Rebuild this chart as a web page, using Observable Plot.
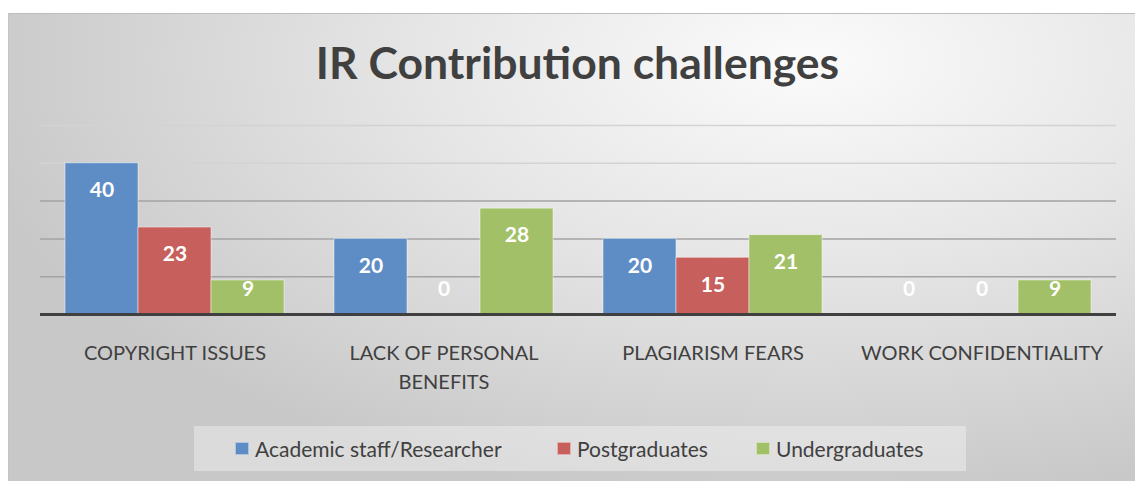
<!DOCTYPE html>
<html>
<head>
<meta charset="utf-8">
<script src="https://cdn.jsdelivr.net/npm/d3@7"></script>
<script src="https://cdn.jsdelivr.net/npm/@observablehq/plot@0.6"></script>
<style>
  html, body { margin: 0; padding: 0; background: #ffffff; width: 1135px; height: 481px; overflow: hidden; }
  #box {
    position: absolute; left: 8px; top: 13px; width: 1140px; height: 470px;
    border-top: 1px solid #bdbdbd; border-left: 1px solid #c4c4c4;
    background: radial-gradient(ellipse 75% 95% at 70% 10%, #fbfbfb 0%, #e6e6e6 45%, #c8c8c8 100%);
  }
  #title {
    position: absolute; left: 0; width: 1155px; top: 40px; text-align: center;
    font-family: Lato, sans-serif; font-weight: bold; font-size: 44.5px; line-height: 1; color: #404040;
  }
  #chart { position: absolute; left: 0; top: 100px; }
  #legend {
    position: absolute; left: 194px; top: 426px; width: 772px; height: 45px;
    background: rgba(255,255,255,0.35);
    font-family: Lato, sans-serif; font-size: 21px; color: #404040;
  }
  .item { position: absolute; top: 0; height: 45px; display: flex; align-items: center; white-space: nowrap; }
  .sw { width: 14px; height: 13px; margin-right: 6px; box-sizing: border-box; border: 1px solid rgba(255,255,255,0.5); }
</style>
</head>
<body>
<div id="box"></div>
<div id="title"></div>
<div id="chart"></div>
<div id="legend"></div>
<script>
const titleText = "IR Contribution challenges";
const categories = ["COPYRIGHT ISSUES", "LACK OF PERSONAL BENEFITS", "PLAGIARISM FEARS", "WORK CONFIDENTIALITY"];
const categoryLabels = ["COPYRIGHT ISSUES", "LACK OF PERSONAL\nBENEFITS", "PLAGIARISM FEARS", "WORK CONFIDENTIALITY"];
const series = ["Academic staff/Researcher", "Postgraduates", "Undergraduates"];
const academic = [40, 20, 20, 0];
const postgraduates = [23, 0, 15, 0];
const undergraduates = [9, 28, 21, 9];
const seriesColors = ["#5e8dc6", "#c75f5c", "#a2c068"];
const gridTicks = [10, 20, 30, 40, 50];

const seriesValues = [academic, postgraduates, undergraduates];
const data = [];
categories.forEach((c, i) => series.forEach((s, j) => data.push({category: c, series: s, value: seriesValues[j][i]})));
const catData = categories.map((c, i) => ({category: c, label: categoryLabels[i]}));

document.getElementById("title").textContent = titleText;

const chart = Plot.plot({
  width: 1135, height: 300,
  marginLeft: 38, marginRight: 18, marginTop: 25, marginBottom: 86,
  style: {background: "transparent", fontFamily: "Lato, sans-serif", overflow: "visible"},
  fx: {domain: categories, padding: 0, axis: null},
  x: {domain: series, paddingInner: 0, paddingOuter: 0.335, axis: null},
  y: {domain: [0, 50], axis: null},
  color: {domain: series, range: seriesColors},
  marks: [
    Plot.ruleY(gridTicks.filter(t => t >= 40), {stroke: "#d3d3d3", strokeWidth: 1.5}),
    Plot.ruleY(gridTicks.filter(t => t < 40), {stroke: "#a3a3a3", strokeWidth: 1.5}),
    Plot.barY(data, {fx: "category", x: "series", y: "value", fill: "series", stroke: "rgba(255,255,255,0.45)", strokeWidth: 1}),
    Plot.ruleY([0], {stroke: "#404040", strokeWidth: 3}),
    Plot.text(data, {fx: "category", x: "series", y: d => Math.max(d.value, 13.75), dy: 27,
      text: d => String(d.value), fill: "white", fontWeight: "bold", fontSize: 21}),
    Plot.text(catData, {fx: "category", text: "label", frameAnchor: "bottom", lineAnchor: "top",
      dy: 25, fontSize: 20, fill: "#404040", lineHeight: 1.45})
  ]
});
document.getElementById("chart").appendChild(chart);

const legend = document.getElementById("legend");
const legendOffsets = [41, 363, 562];
series.forEach((s, i) => {
  const item = document.createElement("div");
  item.className = "item";
  item.style.left = legendOffsets[i] + "px";
  const sw = document.createElement("span");
  sw.className = "sw";
  sw.style.background = seriesColors[i];
  const t = document.createElement("span");
  t.textContent = s;
  item.appendChild(sw); item.appendChild(t);
  legend.appendChild(item);
});
</script>
</body>
</html>
